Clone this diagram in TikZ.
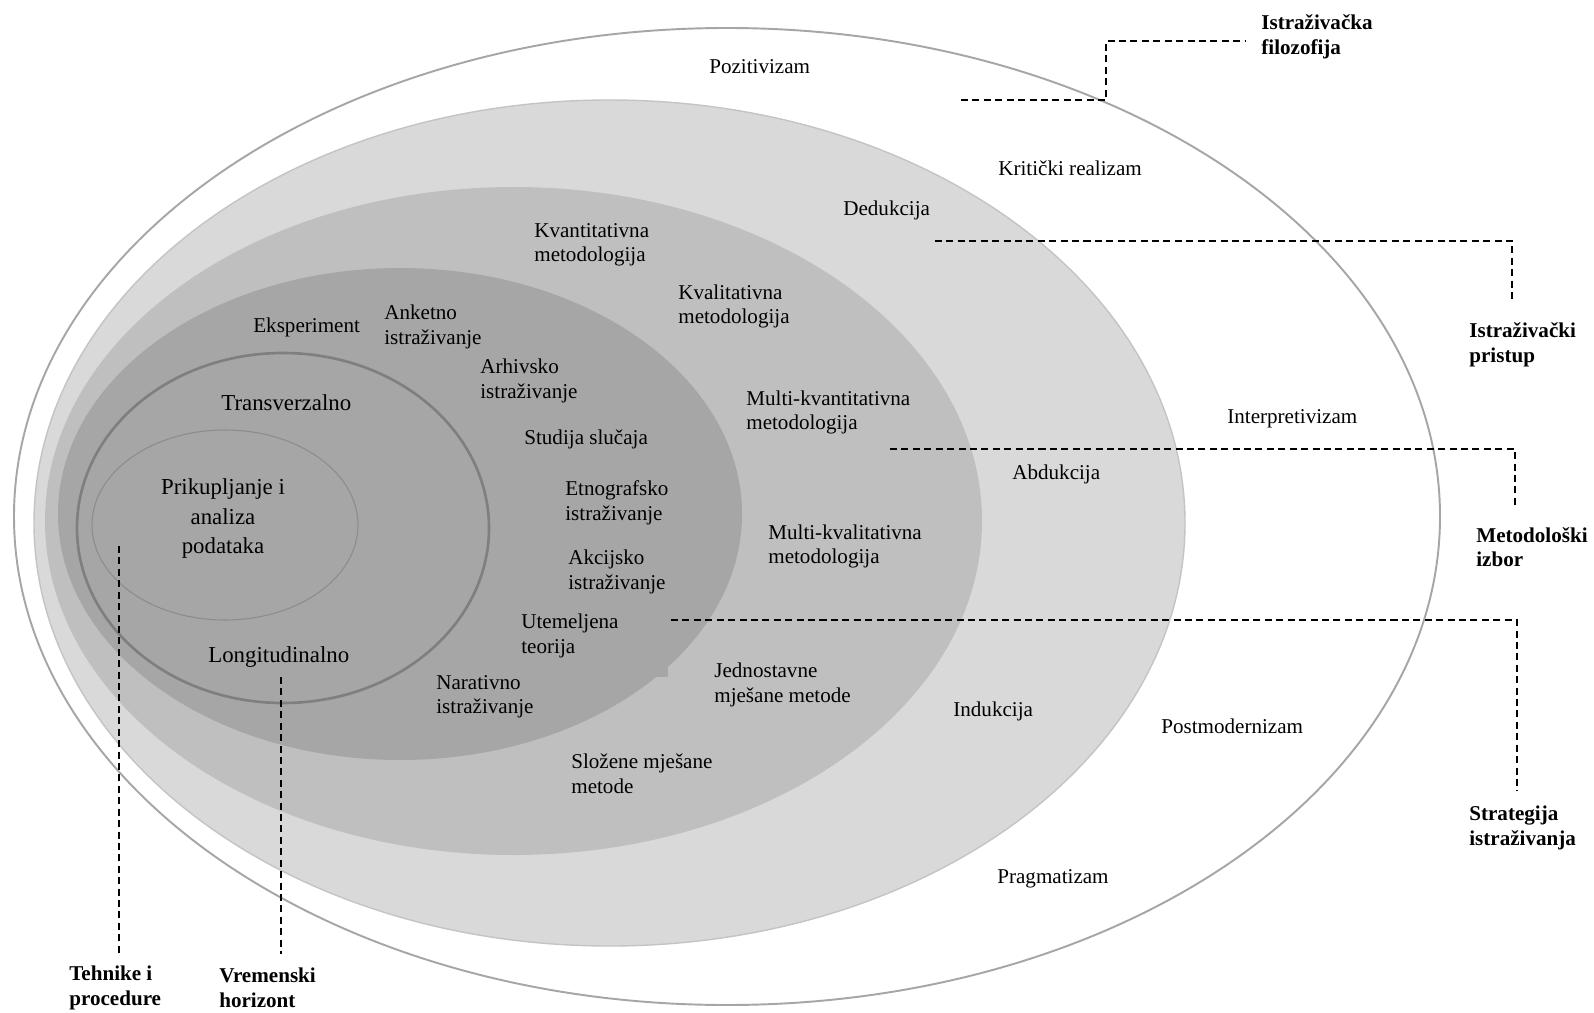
\documentclass[tikz,border=0pt]{standalone}
\usepackage{fontspec}
\setmainfont{Liberation Serif}
\usepackage{tikz}
\definecolor{ringline}{HTML}{A6A6A6}
\definecolor{ringA}{HTML}{D9D9D9}
\definecolor{ringAline}{HTML}{C4C4C4}
\definecolor{ringB}{HTML}{BFBFBF}
\definecolor{ringC}{HTML}{A6A6A6}
\definecolor{ringD}{HTML}{7F7F7F}
\definecolor{ringE}{HTML}{8C8C8C}
\tikzset{
  outerring/.style={fill=white, draw=ringline, line width=1.1pt},
  philring/.style={fill=ringA, draw=ringAline, line width=0.8pt},
  methring/.style={fill=ringB},
  stratring/.style={fill=ringC},
  timering/.style={draw=ringD, line width=1.5pt},
  techring/.style={draw=ringE, line width=0.6pt},
  guide/.style={draw=black, line width=0.8pt, dash pattern=on 4pt off 2.5pt},
  lbl/.style={font=\fontsize{12}{13.8}\selectfont, align=left, anchor=west, inner sep=0pt, yshift=-1.6pt},
  lblbig/.style={font=\fontsize{13}{16.7}\selectfont, align=center, inner sep=0pt, yshift=-1.6pt},
  head/.style={font=\bfseries\fontsize{12}{14.2}\selectfont, align=left, anchor=west, inner sep=0pt, yshift=-1.8pt}
}

\begin{document}
\begin{tikzpicture}[x=0.02cm, y=-0.02cm]
  \useasboundingbox (0,0) rectangle (1594,1013);

  % the onion layers
  \draw[outerring] (727,516.5) ellipse (713 and 488.5);
  \draw[philring] (609.5,523) ellipse (575.5 and 423);
  \fill[methring] (513.5,521) ellipse (468.5 and 334);
  \fill[stratring] (400,514) ellipse (342 and 246);
  \fill[stratring] (600,640) rectangle (668,677);
  \draw[timering] (283,528) ellipse (206 and 175);
  \draw[techring] (225,525) ellipse (133 and 95);

  % layer texts
  \node[lbl] (poz) at (709,64) {Pozitivizam};
  \node[lbl] (krit) at (998,165) {Kritički realizam};
  \node[lbl] (ded) at (843,208) {Dedukcija};
  \node[lbl] (kvant) at (534,242) {Kvantitativna\\metodologija};
  \node[lbl] (kval) at (678,304) {Kvalitativna\\metodologija};
  \node[lbl] (eksp) at (253,325) {Eksperiment};
  \node[lbl] (anket) at (384,324) {Anketno\\istraživanje};
  \node[lbl] (arhiv) at (480,378) {Arhivsko\\istraživanje};
  \node[lbl] (mkvant) at (746,410) {Multi-kvantitativna\\metodologija};
  \node[lbl] (stud) at (524,437) {Studija slučaja};
  \node[lbl] (interp) at (1227,416) {Interpretivizam};
  \node[lbl] (abd) at (1012,472) {Abdukcija};
  \node[lbl] (etno) at (565,500) {Etnografsko\\istraživanje};
  \node[lbl] (mkval) at (768,544) {Multi-kvalitativna\\metodologija};
  \node[lbl] (akc) at (568,569) {Akcijsko\\istraživanje};
  \node[lbl] (utem) at (521,633) {Utemeljena\\teorija};
  \node[lbl] (narat) at (436,694) {Narativno\\istraživanje};
  \node[lbl] (jedn) at (714,682) {Jednostavne\\mješane metode};
  \node[lbl] (ind) at (953,709) {Indukcija};
  \node[lbl] (postm) at (1161,723) {Postmodernizam};
  \node[lbl] (slož) at (571,771) {Složene mješane\\metode};
  \node[lbl] (pragm) at (997,876) {Pragmatizam};

  \node[lblbig, anchor=west] (trans) at (221,400) {Transverzalno};
  \node[lblbig, anchor=west] (longi) at (208,654) {Longitudinalno};
  \node[lblbig] (prik) at (223,516) {Prikupljanje i\\analiza\\podataka};

  % headings
  \node[head] (hfil) at (1261,34) {Istraživačka\\filozofija};
  \node[head] (hpri) at (1469,342) {Istraživački\\pristup};
  \node[head] (hmet) at (1476,544) {Metodološki\\izbor};
  \node[head] (hstr) at (1469,825) {Strategija\\istraživanja};
  \node[head] (htech) at (69,985) {Tehnike i\\procedure};
  \node[head] (hvrem) at (219,985) {Vremenski\\horizont};

  % dashed guides
  \coordinate (fil0) at (961,100);
  \coordinate (fil1) at (1106,41);
  \coordinate (fil2) at (1245,41);
  \draw[guide] (fil0) -| (fil1) -- (fil2);

  \coordinate (pri0) at (935,241);
  \coordinate (pri1) at (1512,303);
  \draw[guide] (pri0) -| (pri1);

  \coordinate (met0) at (890,449);
  \coordinate (met1) at (1515,508);
  \draw[guide] (met0) -| (met1);

  \coordinate (str0) at (671,620);
  \coordinate (str1) at (1517,791);
  \draw[guide] (str0) -| (str1);

  \coordinate (tech0) at (119,546);
  \coordinate (tech1) at (119,954);
  \draw[guide] (tech0) -- (tech1);

  \coordinate (vrem0) at (281,677);
  \coordinate (vrem1) at (281,954);
  \draw[guide] (vrem0) -- (vrem1);
\end{tikzpicture}
\end{document}
